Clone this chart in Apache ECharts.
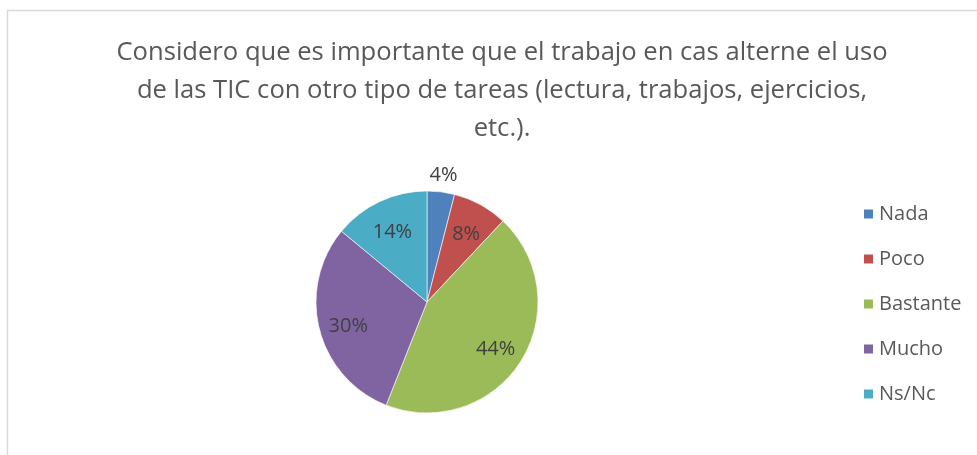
<!DOCTYPE html>
<html>
<head>
<meta charset="utf-8">
<script src="https://cdn.jsdelivr.net/npm/echarts@6/dist/echarts.min.js"></script>
<style>
  html, body { margin: 0; padding: 0; background: #fff; }
  #chart { width: 977px; height: 455px; }
</style>
</head>
<body>
<div id="chart"></div>
<script>
var categories = ['Nada', 'Poco', 'Bastante', 'Mucho', 'Ns/Nc'];
var values = [4, 8, 44, 30, 14];
var colors = ['#4F81BD', '#C0504D', '#9BBB59', '#8064A2', '#4BACC6'];
var titleText = 'Considero que es importante que el trabajo en cas alterne el uso\nde las TIC con otro tipo de tareas (lectura, trabajos, ejercicios,\netc.).';

var chart = echarts.init(document.getElementById('chart'));

var R = 111;  // radio del pastel en px
var font = '"Open Sans", sans-serif';

function makeData(showFn, hidden) {
  return categories.map(function (c, i) {
    var d = {
      name: c,
      value: values[i],
      label: { show: showFn(i) }
    };
    if (hidden) d.itemStyle = { color: 'rgba(0,0,0,0)' };
    return d;
  });
}

var labelStyle = {
  position: 'inner',
  formatter: '{d}%',
  fontFamily: font,
  fontSize: 20,
  color: '#404040',
  offset: [0, 4]
};

var option = {
  color: colors,
  animation: false,
  graphic: [{
    type: 'rect',
    shape: { x: 7.5, y: 10.5, width: 1000, height: 500 },
    style: { fill: 'none', stroke: '#d9d9d9', lineWidth: 1.5 },
    silent: true
  }],
  title: {
    text: titleText,
    left: 497,
    top: 29,
    textAlign: 'center',
    textStyle: {
      fontFamily: font,
      fontSize: 25.6,
      fontWeight: 'normal',
      color: '#595959',
      lineHeight: 38
    }
  },
  legend: {
    orient: 'vertical',
    left: 857,
    top: 199,
    itemWidth: 11,
    itemHeight: 11,
    itemGap: 25,
    icon: 'rect',
    data: categories,
    textStyle: {
      fontFamily: font,
      fontSize: 20,
      color: '#595959'
    }
  },
  series: [
    {
      // pastel visible
      type: 'pie',
      center: [427, 302],
      radius: R,
      startAngle: 90,
      clockwise: true,
      label: { show: false },
      labelLine: { show: false },
      itemStyle: { borderColor: '#fff', borderWidth: 0.6 },
      emphasis: { disabled: true },
      data: makeData(function () { return false; }, false)
    },
    {
      // etiquetas interiores (transparente)
      type: 'pie',
      center: [427, 302],
      radius: R * 1.41,
      startAngle: 90,
      silent: true,
      z: 3,
      label: labelStyle,
      labelLine: { show: false },
      emphasis: { disabled: true },
      data: makeData(function (i) { return i !== 0; }, true)
    },
    {
      // etiqueta exterior de "Nada"
      type: 'pie',
      center: [427, 302],
      radius: R * 2.32,
      startAngle: 90,
      silent: true,
      z: 3,
      label: labelStyle,
      labelLine: { show: false },
      emphasis: { disabled: true },
      data: makeData(function (i) { return i === 0; }, true)
    }
  ]
};

chart.setOption(option);
</script>
</body>
</html>
